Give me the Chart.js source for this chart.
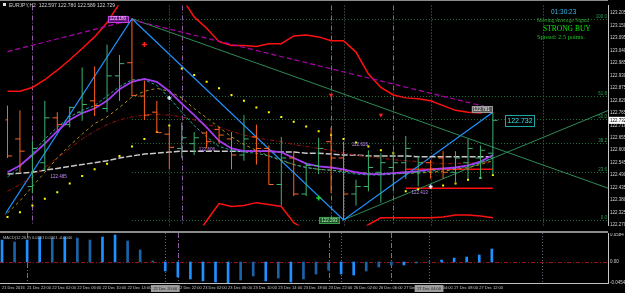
<!DOCTYPE html>
<html>
<head>
<meta charset="utf-8">
<title>EURJPY,H2</title>
<script src="https://cdn.jsdelivr.net/npm/chart.js@4.4.1/dist/chart.umd.min.js"></script>
<style>
  html, body { margin: 0; padding: 0; background: #000; }
  #tela { position: relative; width: 625px; height: 293px; overflow: hidden; background: #000; }
  canvas { position: absolute; left: 0; }
  #principal { top: 0; }
  #macd { top: 233px; }
  .linha { position: absolute; left: 0; width: 608px; background: #8c8c8c; }
  .txt { position: absolute; white-space: nowrap; line-height: 1; transform-origin: 0 0; }
</style>
</head>
<body>
<div id="tela">
  <canvas id="principal" width="625" height="231"></canvas>
  <canvas id="macd" width="625" height="60"></canvas>
  <div class="linha" style="top:0;height:1px;"></div>
  <div class="linha" style="top:231px;height:2px;"></div>
  <div style="position:absolute;left:3px;top:3px;width:3px;height:3px;background:#e0e0e0;"></div>
  <div class="txt" style="left:9px;top:2px;font:10px 'Liberation Sans',sans-serif;color:#d4d4d4;transform:scale(0.5);">EURJPY,H2&nbsp; 122.597 122.780 122.589 122.729</div>
  <div class="txt" style="left:551px;top:8px;font:6.5px 'Liberation Sans',sans-serif;color:#38b8e8;">01:30:23</div>
  <div class="txt" style="left:537px;top:17px;font:11px 'Liberation Serif',serif;color:#2fa62f;transform:scale(0.5);">Moving Average Signal</div>
  <div class="txt" style="left:543px;top:24px;font:7.5px 'Liberation Serif',serif;color:#00e600;">STRONG BUY</div>
  <div class="txt" style="left:537px;top:33px;font:6.4px 'Liberation Serif',serif;color:#18cc18;">Spread: 2.5 points.</div>
  <div class="txt" style="left:3px;top:235px;font:8px 'Liberation Sans',sans-serif;color:#bdbdbd;transform:scale(0.5);">MACD(12,26,9) 0.0261 0.0301 -0.0040</div>
</div>
<script>
// barras (H2), indice 0 = 21 Dec 18:00
const abertura = [122.734,122.650,122.440,122.545,122.743,122.713,122.768,122.818,122.784,122.928,122.986,122.839,122.768,122.671,122.608,122.629,122.676,122.692,122.650,122.579,122.659,122.608,122.449,122.566,122.407,122.533,122.638,122.566,122.407,122.440,122.503,122.524,122.545,122.503,122.545,122.566,122.503,122.545,122.566,122.587];
const maxima = [122.797,122.776,122.642,122.818,122.768,122.793,122.965,122.970,123.066,123.020,123.180,122.907,122.818,122.705,122.722,122.680,122.684,122.705,122.680,122.755,122.713,122.621,122.659,122.596,122.545,122.655,122.701,122.638,122.470,122.600,122.587,122.596,122.663,122.575,122.558,122.596,122.596,122.650,122.621,122.768];
const minima = [122.566,122.503,122.411,122.512,122.688,122.701,122.730,122.751,122.768,122.818,122.839,122.734,122.676,122.516,122.566,122.579,122.608,122.629,122.516,122.554,122.537,122.449,122.356,122.398,122.398,122.495,122.411,122.293,122.356,122.419,122.369,122.419,122.474,122.440,122.474,122.474,122.453,122.474,122.474,122.491];
const fechamento = [122.575,122.596,122.608,122.743,122.713,122.789,122.802,122.797,122.928,122.982,122.841,122.755,122.678,122.613,122.655,122.655,122.638,122.667,122.579,122.650,122.608,122.449,122.566,122.407,122.533,122.608,122.566,122.407,122.440,122.524,122.545,122.545,122.608,122.545,122.516,122.503,122.566,122.608,122.600,122.732];

// medias moveis
const mediaRoxa = [122.503,122.533,122.579,122.629,122.684,122.734,122.764,122.784,122.818,122.869,122.902,122.915,122.902,122.860,122.806,122.755,122.701,122.642,122.608,122.596,122.596,122.596,122.592,122.566,122.541,122.529,122.524,122.516,122.503,122.495,122.495,122.499,122.503,122.508,122.516,122.520,122.524,122.533,122.550,122.579];
const mediaCiano = [122.482,122.524,122.587,122.650,122.701,122.747,122.776,122.797,122.839,122.881,122.911,122.911,122.886,122.831,122.768,122.709,122.659,122.617,122.600,122.592,122.587,122.575,122.558,122.537,122.524,122.516,122.512,122.503,122.495,122.491,122.491,122.495,122.499,122.503,122.508,122.516,122.520,122.529,122.545,122.566];
const mediaOliva = [122.323,122.377,122.440,122.503,122.566,122.621,122.671,122.718,122.747,122.789,122.835,122.860,122.873,122.860,122.831,122.784,122.743,122.701,122.659,122.625,122.600,122.575,122.554,122.537,122.524,122.516,122.512,122.508,122.503,122.499,122.495,122.495,122.499,122.499,122.503,122.508,122.516,122.524,122.537,122.554];
const mediaVermelha = [122.419,122.449,122.482,122.524,122.566,122.608,122.650,122.684,122.713,122.734,122.747,122.755,122.760,122.755,122.747,122.734,122.713,122.701,122.684,122.667,122.655,122.646,122.638,122.625,122.617,122.608,122.600,122.587,122.579,122.571,122.566,122.558,122.554,122.550,122.545,122.541,122.541,122.545,122.545,122.550];
const mediaCinza = [122.495,122.499,122.503,122.512,122.520,122.529,122.537,122.545,122.554,122.566,122.575,122.583,122.587,122.592,122.596,122.596,122.596,122.596,122.596,122.596,122.596,122.596,122.592,122.592,122.587,122.587,122.583,122.579,122.579,122.575,122.575,122.575,122.575,122.571,122.571,122.571,122.571,122.571,122.571,122.571];

// envelope e parabolic SAR
const bandaSuperior = [122.860,122.860,122.877,122.911,122.953,122.999,123.049,123.100,123.163,123.247,123.322,123.364,123.343,123.289,123.272,123.188,123.138,123.079,123.062,123.062,123.058,123.070,123.070,123.104,123.108,123.100,123.083,123.083,123.033,122.936,122.877,122.844,122.831,122.827,122.818,122.797,122.776,122.768,122.764,122.781];
const bandaInferior = [122.188,122.167,122.138,122.104,122.071,122.041,122.012,121.987,121.978,121.987,122.012,122.041,122.083,122.104,122.146,122.209,122.289,122.365,122.352,122.356,122.369,122.361,122.352,122.281,122.247,122.230,122.218,122.214,122.230,122.272,122.302,122.302,122.302,122.302,122.302,122.306,122.314,122.314,122.310,122.302];
const sar = [122.306,122.327,122.356,122.386,122.415,122.453,122.487,122.516,122.541,122.575,122.617,122.650,122.680,122.709,122.961,122.932,122.902,122.873,122.844,122.818,122.789,122.768,122.747,122.726,122.705,122.684,122.667,122.650,122.634,122.617,122.600,122.587,122.419,122.428,122.436,122.445,122.453,122.470,122.478,122.491];

// MACD
const macdHistograma = [0.0475,0.0432,0.0475,0.0540,0.0518,0.0540,0.0518,0.0475,0.0540,0.0584,0.0454,0.0259,0.0022,-0.0194,-0.0324,-0.0367,-0.0410,-0.0432,-0.0454,-0.0389,-0.0302,-0.0410,-0.0346,-0.0432,-0.0367,-0.0259,-0.0173,-0.0259,-0.0281,-0.0194,-0.0108,-0.0065,-0.0065,-0.0022,0.0008,0.0043,0.0086,0.0108,0.0151,0.0281];

// eixos
const ticksPreco = [123.205,123.150,123.095,123.040,122.985,122.930,122.875,122.820,122.765,122.710,122.655,122.600,122.545,122.490,122.435,122.380,122.325,122.270];
const ticksMacd = [0.0584, 0, -0.0454];
const rotulosMacd = ['0.0584', '0.00', '-0.0454'];
const barrasTempo = [0,2,4,6,8,10,12,14,16,18,20,22,24,26,28,30,32,34,36,38];
const rotulosTempo = ['21 Dec 2016','21 Dec 22:00','22 Dec 02:00','22 Dec 06:00','22 Dec 10:00','22 Dec 14:00','22 Dec 18:00','22 Dec 22:00','23 Dec 02:00','23 Dec 06:00','23 Dec 10:00','23 Dec 14:00','23 Dec 18:00','23 Dec 22:00','26 Dec 02:00','26 Dec 06:00','27 Dec 00:00','27 Dec 04:00','27 Dec 08:00','27 Dec 12:00'];

// objetos desenhados no grafico
const zigzagBarras = [-1, 10, 27, 39];
const zigzagPrecos = [122.250, 123.180, 122.293, 122.768];
const canalBarras = [0, 10, 39];
const canalPrecos = [123.035, 123.175, 122.784];
const baixaBarras = [10, 48.3];
const baixaPrecos = [123.180, 122.432];
const altaBarras = [27, 48.3];
const altaPrecos = [122.293, 122.776];
const suporteBarras = [32, 39];
const suportePrecos = [122.516, 122.432];
const niveisFibo = [0, 23.6, 38.2, 50, 61.8, 100];
const fiboAlta = 10;
const fiboBaixa = 27;
const separadoresDia = [2, 14, 26, 31];
const linhasMarcadas = [13, 27, 34, 43];
const marcasTempoBarras = [13, 34];
const marcasTempoTexto = ['22 Dec 20:00', '27 Dec 04:00'];
const rotulosNivelBarras = [3.3, 15.2, 27.5, 32.3];
const rotulosNivelPrecos = [122.485, 122.606, 122.626, 122.413];
const cruzVermelhaBarras = [11];
const cruzVermelhaPrecos = [123.066];
const cruzBrancaBarras = [13, 34];
const cruzBrancaPrecos = [122.831, 122.440];
const cruzVerdeBarras = [25];
const cruzVerdePrecos = [122.390];
const setaBaixoBarras = [26, 30];
const setaBaixoPrecos = [122.844, 122.755];

const fonteMiuda = "'Liberation Sans', sans-serif";
const xMin = -0.16, xMax = 48.25;

function serie(valores) {
    return valores.map((v, i) => ({ x: i, y: v }));
}

function pares(barras, precos) {
    return barras.map((b, k) => ({ x: b, y: precos[k] }));
}

function linha(dados, cor, largura, traco) {
    return { data: dados, borderColor: cor, borderWidth: largura, borderDash: traco || [], pointRadius: 0, fill: false, tension: 0 };
}

function pontos(dados, cor, estilo, raio, rotacao) {
    return { data: dados, showLine: false, pointStyle: estilo, pointRadius: raio, pointRotation: rotacao || 0,
        pointBackgroundColor: cor, pointBorderColor: cor, pointBorderWidth: estilo === 'cross' ? 1.5 : 0 };
}

// barra OHLC estilo MT4: haste + traco de abertura a esquerda + traco de fechamento a direita
function barrasOhlc(alta) {
    const pts = [];
    abertura.forEach((o, i) => {
        if ((fechamento[i] >= o) !== alta) return;
        pts.push({ x: i, y: minima[i] }, { x: i, y: maxima[i] }, { x: i, y: null });
        pts.push({ x: i - 0.38, y: o }, { x: i, y: o }, { x: i, y: null });
        pts.push({ x: i, y: fechamento[i] }, { x: i + 0.38, y: fechamento[i] }, { x: i, y: null });
    });
    return pts;
}

function linhasVerticais(ctx, x, area) {
    ctx.lineWidth = 1;
    ctx.strokeStyle = '#8e5f9e';
    ctx.setLineDash([5, 2, 1, 2]);
    separadoresDia.forEach(b => {
        const px = Math.round(x.getPixelForValue(b)) + 0.5;
        ctx.beginPath(); ctx.moveTo(px, area.top); ctx.lineTo(px, area.bottom); ctx.stroke();
    });
    ctx.strokeStyle = '#5d6b78';
    ctx.setLineDash([1, 2]);
    linhasMarcadas.forEach(b => {
        const px = Math.round(x.getPixelForValue(b)) + 0.5;
        ctx.beginPath(); ctx.moveTo(px, area.top); ctx.lineTo(px, area.bottom); ctx.stroke();
    });
    ctx.setLineDash([]);
}

function etiqueta(ctx, texto, px, py, op) {
    ctx.font = op.fonte || ('4.5px ' + fonteMiuda);
    const w = ctx.measureText(texto).width + 4;
    const h = op.altura || 6;
    const esq = op.alinhar === 'direita' ? px - w : px;
    if (op.fundo) { ctx.fillStyle = op.fundo; ctx.fillRect(esq, py - h / 2, w, h); }
    if (op.borda) {
        ctx.strokeStyle = op.borda; ctx.lineWidth = 1;
        ctx.strokeRect(Math.round(esq) + 0.5, Math.round(py - h / 2) + 0.5, Math.round(w), Math.round(h));
    }
    ctx.fillStyle = op.cor;
    ctx.textAlign = 'left';
    ctx.textBaseline = 'middle';
    ctx.fillText(texto, esq + 2, py + 0.5);
}

const decoracaoPrincipal = {
    id: 'decoracaoPrincipal',
    beforeDatasetsDraw(chart) {
        const { ctx, chartArea: area, scales: { x, y } } = chart;
        ctx.save();
        linhasVerticais(ctx, x, area);
        const topo = maxima[fiboAlta], fundo = minima[fiboBaixa];
        const x0 = x.getPixelForValue(fiboAlta);
        niveisFibo.forEach(n => {
            const py = Math.round(y.getPixelForValue(fundo + (topo - fundo) * n / 100)) + 0.5;
            ctx.strokeStyle = '#1f6e3e';
            ctx.setLineDash([1, 2]);
            ctx.beginPath(); ctx.moveTo(x0, py); ctx.lineTo(area.right, py); ctx.stroke();
            ctx.setLineDash([]);
            ctx.fillStyle = '#2f9a55';
            ctx.font = '4.5px ' + fonteMiuda;
            ctx.textAlign = 'right';
            ctx.textBaseline = 'bottom';
            ctx.fillText(n.toFixed(1), area.right - 1, py);
        });
        ctx.restore();
    },
    afterDatasetsDraw(chart) {
        const { ctx, chartArea: area, scales: { x, y } } = chart;
        ctx.save();
        etiqueta(ctx, maxima[fiboAlta].toFixed(3), x.getPixelForValue(fiboAlta) - 4, y.getPixelForValue(maxima[fiboAlta]),
            { fundo: '#6e1680', borda: '#c040e0', cor: '#f4d4ff', alinhar: 'direita' });
        etiqueta(ctx, minima[fiboBaixa].toFixed(3), x.getPixelForValue(fiboBaixa) - 4, y.getPixelForValue(minima[fiboBaixa]),
            { fundo: '#1d5a2a', borda: '#3b9a4c', cor: '#b4f0b4', alinhar: 'direita' });
        rotulosNivelBarras.forEach((b, k) => {
            etiqueta(ctx, rotulosNivelPrecos[k].toFixed(3), x.getPixelForValue(b), y.getPixelForValue(rotulosNivelPrecos[k]),
                { cor: '#c98cff' });
        });
        const ultimo = fechamento.length - 1;
        etiqueta(ctx, bandaSuperior[ultimo].toFixed(3), x.getPixelForValue(ultimo) - 1, y.getPixelForValue(bandaSuperior[ultimo]),
            { fundo: '#5a5a5a', borda: '#9a9a9a', cor: '#e8e8e8', alinhar: 'direita' });
        etiqueta(ctx, fechamento[ultimo].toFixed(3), x.getPixelForValue(ultimo + 1), y.getPixelForValue(fechamento[ultimo]),
            { fundo: '#000', borda: '#1fa5a5', cor: '#3ee4e4', altura: 11, fonte: '7px ' + fonteMiuda });
        // preco atual no eixo da direita
        const py = y.getPixelForValue(fechamento[ultimo]);
        ctx.fillStyle = '#ffffff';
        ctx.fillRect(area.right + 1, py - 3.5, 625 - area.right, 7);
        ctx.fillStyle = '#000';
        ctx.font = '4.5px ' + fonteMiuda;
        ctx.textAlign = 'left';
        ctx.textBaseline = 'middle';
        ctx.fillText(fechamento[ultimo].toFixed(3), area.right + 2, py + 0.5);
        ctx.restore();
    }
};

const decoracaoMacd = {
    id: 'decoracaoMacd',
    beforeDatasetsDraw(chart) {
        const { ctx, chartArea: area, scales: { x, y } } = chart;
        ctx.save();
        linhasVerticais(ctx, x, area);
        const zy = Math.round(y.getPixelForValue(0)) + 0.5;
        ctx.strokeStyle = '#9a1212';
        ctx.setLineDash([4, 2, 1, 2]);
        ctx.beginPath(); ctx.moveTo(area.left, zy); ctx.lineTo(area.right, zy); ctx.stroke();
        ctx.restore();
    },
    afterDraw(chart) {
        const { ctx, chartArea: area, scales: { x } } = chart;
        ctx.save();
        ctx.font = '4px ' + fonteMiuda;
        marcasTempoBarras.forEach((b, k) => {
            const px = x.getPixelForValue(b);
            const w = ctx.measureText(marcasTempoTexto[k]).width + 5;
            ctx.fillStyle = '#9c9c9c';
            ctx.fillRect(px - w / 2, area.bottom + 2, w, 7);
            ctx.fillStyle = '#202020';
            ctx.textAlign = 'center';
            ctx.textBaseline = 'middle';
            ctx.fillText(marcasTempoTexto[k], px, area.bottom + 5.8);
        });
        ctx.restore();
    }
};

const semEventos = { responsive: false, animation: false, devicePixelRatio: 1, events: [], layout: { padding: 0 },
    plugins: { legend: { display: false }, tooltip: { enabled: false } } };

function eixoPrecos(min, max, ticks, rotulo) {
    return {
        position: 'right', min: min, max: max,
        afterBuildTicks: s => { s.ticks = ticks.map(v => ({ value: v })); },
        afterFit: s => { s.width = 17; s.paddingTop = 0; s.paddingBottom = 0; },
        ticks: { color: '#d2d2d2', padding: 2, font: { size: 4.5, family: fonteMiuda }, callback: rotulo, autoSkip: false },
        grid: { display: false, drawTicks: false },
        border: { color: '#c8c8c8' }
    };
}

const verdes = barrasOhlc(true);
const laranjas = barrasOhlc(false);

new Chart(document.getElementById('principal'), {
    type: 'line',
    data: {
        datasets: [
            linha(verdes, '#3cb371', 1),
            linha(laranjas, '#ff6420', 1),
            pontos(pares(cruzVermelhaBarras, cruzVermelhaPrecos), '#ff2020', 'cross', 2.5),
            pontos(pares(cruzBrancaBarras, cruzBrancaPrecos), '#e8e8ff', 'cross', 2),
            pontos(pares(cruzVerdeBarras, cruzVerdePrecos), '#20d040', 'cross', 2.5),
            pontos(pares(setaBaixoBarras, setaBaixoPrecos), '#ff2020', 'triangle', 2.5, 180),
            pontos(serie(sar), '#ffff00', 'rect', 1.4),
            linha(serie(mediaRoxa), '#a43cf0', 1.8),
            linha(serie(mediaCiano), '#1fa3a3', 1, [3, 2]),
            linha(serie(mediaOliva), '#b09010', 1, [3, 3]),
            linha(serie(mediaVermelha), '#a01010', 1, [4, 2, 1, 2]),
            linha(serie(mediaCinza), '#c8c8c8', 1.5, [6, 2]),
            linha(pares(zigzagBarras, zigzagPrecos), '#1e90ff', 1.2),
            linha(pares(canalBarras, canalPrecos), '#b000b0', 1.2, [5, 3]),
            linha(pares(baixaBarras, baixaPrecos), '#2e8b57', 1),
            linha(pares(altaBarras, altaPrecos), '#2e8b57', 1),
            linha(pares(suporteBarras, [suportePrecos[0], suportePrecos[0]]), '#ff1010', 1.5),
            linha(pares(suporteBarras, [suportePrecos[1], suportePrecos[1]]), '#ff1010', 1.5),
            linha(serie(bandaSuperior), '#ff1010', 1.5),
            linha(serie(bandaInferior), '#ff1010', 1.5)
        ]
    },
    options: Object.assign({}, semEventos, {
        scales: {
            x: { type: 'linear', min: xMin, max: xMax, display: false },
            y: eixoPrecos(122.2682, 123.2384, ticksPreco, v => v.toFixed(3))
        }
    }),
    plugins: [decoracaoPrincipal]
});

new Chart(document.getElementById('macd'), {
    type: 'bar',
    data: {
        datasets: [{
            data: serie(macdHistograma),
            backgroundColor: macdHistograma.map((v, i) => (i > 0 && Math.abs(v) < Math.abs(macdHistograma[i - 1])) ? '#1b63a8' : '#1e90ff'),
            barThickness: 2,
            borderWidth: 0
        }]
    },
    options: Object.assign({}, semEventos, {
        scales: {
            x: {
                type: 'linear', min: xMin, max: xMax, offset: false, position: 'bottom',
                afterBuildTicks: s => { s.ticks = barrasTempo.map(v => ({ value: v })); },
                afterFit: s => { s.height = 10; s.paddingLeft = 0; s.paddingRight = 0; },
                ticks: { autoSkip: false, maxRotation: 0, align: 'start', padding: 2, color: '#c8c8c8',
                    font: { size: 4, family: fonteMiuda },
                    callback: v => rotulosTempo[barrasTempo.indexOf(v)] },
                grid: { display: false, drawTicks: false },
                border: { color: '#c0c0c0' }
            },
            y: eixoPrecos(-0.0454, 0.0627, ticksMacd, v => rotulosMacd[ticksMacd.indexOf(v)])
        }
    }),
    plugins: [decoracaoMacd]
});
</script>
</body>
</html>
